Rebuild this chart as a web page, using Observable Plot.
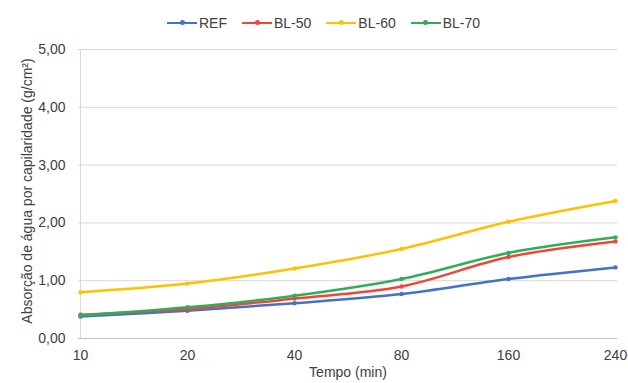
<!DOCTYPE html>
<html>
<head>
<meta charset="utf-8">
<script src="https://cdn.jsdelivr.net/npm/d3@7"></script>
<script src="https://cdn.jsdelivr.net/npm/@observablehq/plot@0.6"></script>
<style>
  body { margin: 0; background: #fff; font-family: "Liberation Sans", Arial, sans-serif; }
  #wrap { width: 628px; height: 383px; position: relative; overflow: hidden; }
  #legend { position: absolute; left: 167px; top: 14px; height: 18px; display: flex; align-items: center; gap: 15px; font-size: 14px; color: #404040; }
  .item { display: flex; align-items: center; gap: 2px; }
  .sw { width: 30px; height: 2.5px; position: relative; }
  .sw i { position: absolute; left: 12.5px; top: -1.5px; width: 5px; height: 5px; border-radius: 50%; }
  #chart { position: absolute; left: 0; top: 0; }
</style>
</head>
<body>
<div id="wrap">
  <div id="chart"></div>
  <div id="legend"></div>
</div>
<script>
const times = ["10", "20", "40", "80", "160", "240"];
const seriesNames = ["REF", "BL-50", "BL-60", "BL-70"];
const seriesColors = ["#4472C4", "#F0453A", "#FFC000", "#2FAE5A"];
const REF   = [0.38, 0.48, 0.61, 0.77, 1.03, 1.23];
const BL50  = [0.41, 0.51, 0.69, 0.90, 1.41, 1.68];
const BL60  = [0.80, 0.95, 1.21, 1.55, 2.02, 2.38];
const BL70  = [0.40, 0.54, 0.74, 1.03, 1.48, 1.75];
const yTicks = [0, 1, 2, 3, 4, 5];

const seriesValues = [REF, BL50, BL60, BL70];
const data = [];
seriesNames.forEach((s, i) => times.forEach((t, j) => data.push({series: s, t, v: seriesValues[i][j]})));

const leg = document.getElementById("legend");
seriesNames.forEach((s, i) => {
  const d = document.createElement("div");
  d.className = "item";
  d.innerHTML = `<span class="sw" style="background:${seriesColors[i]}"><i style="background:${seriesColors[i]}"></i></span><span>${s}</span>`;
  leg.appendChild(d);
});

const fmt = d => d.toFixed(2).replace(".", ",");

const chart = Plot.plot({
  width: 628,
  height: 383,
  marginLeft: 78,
  marginRight: 11,
  marginTop: 49,
  marginBottom: 45,
  style: { fontFamily: "'Liberation Sans', Arial, sans-serif", fontSize: "14px", color: "#404040", background: "#fff", overflow: "visible" },
  x: { type: "point", domain: times, padding: 0, label: null },
  y: { domain: [0, 5], ticks: yTicks, label: null },
  color: { domain: seriesNames, range: seriesColors },
  marks: [
    Plot.gridY(yTicks, { stroke: "#D9D9D9", strokeOpacity: 1, strokeWidth: 1 }),
    Plot.ruleX([times[0]], { stroke: "#D9D9D9", strokeWidth: 1 }),
    Plot.ruleY([0], { stroke: "#BFBFBF", strokeWidth: 1 }),
    Plot.axisY(yTicks, { tickFormat: fmt, tickSize: 0, tickPadding: 13, fontSize: 14, fill: "#404040" }),
    Plot.axisX({ tickSize: 0, tickPadding: 12, fontSize: 14, fill: "#404040" }),
    Plot.text(["Tempo (min)"], { frameAnchor: "bottom", dy: 38, fontSize: 14, fill: "#404040" }),
    Plot.text(["Absorção de água por capilaridade (g/cm²)"], { frameAnchor: "left", textAnchor: "middle", rotate: -90, dx: -51, dy: -3, fontSize: 14, fill: "#404040" }),
    Plot.line(data, { x: "t", y: "v", stroke: "series", z: "series", strokeWidth: 2.5, curve: "catmull-rom" }),
    Plot.dot(data, { x: "t", y: "v", fill: "series", r: 2.2 })
  ]
});
document.getElementById("chart").appendChild(chart);
</script>
</body>
</html>
